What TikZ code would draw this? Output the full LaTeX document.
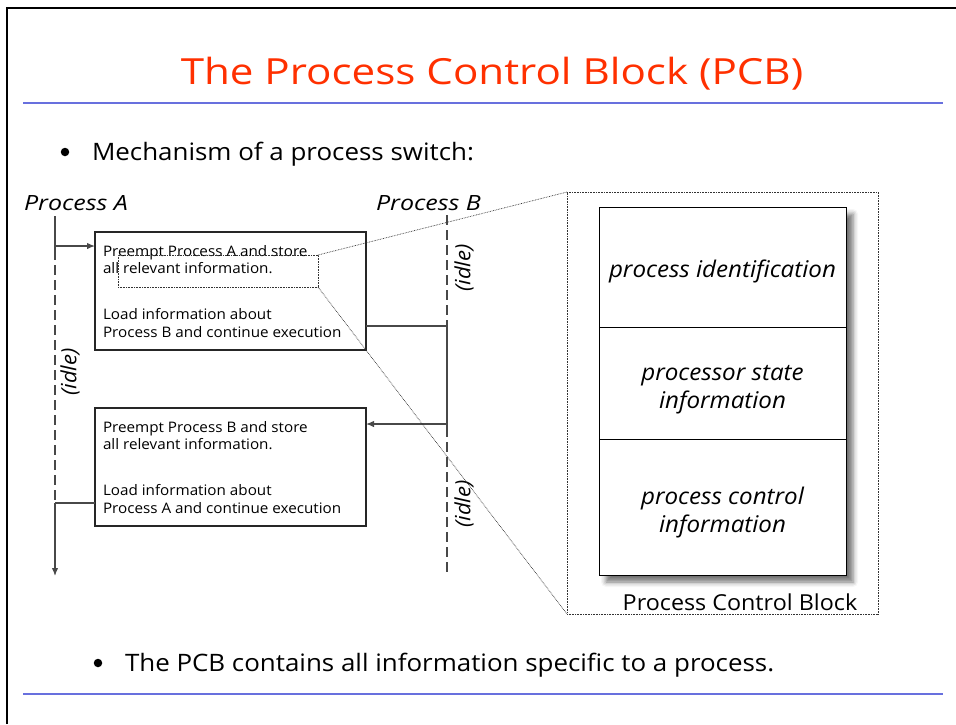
\documentclass[tikz,border=0pt]{standalone}
\usepackage{fontspec}
\setmainfont{Open Sans}
% Open Sans, widened per role
\newfontfamily\titlefont{Open Sans}[FakeStretch=1.17]
\newfontfamily\bulletfont{Open Sans}[FakeStretch=1.08]
\newfontfamily\boxfont{Open Sans}[FakeStretch=1.05]
\newfontfamily\namefont{Open Sans}[FakeStretch=1.06]
\newfontfamily\labelfont{Open Sans}[FakeStretch=1.19]
\newfontfamily\idlefont{Open Sans}[FakeStretch=1.05]
\newfontfamily\cellfont{Open Sans}[FakeStretch=1.05]
\usetikzlibrary{arrows.meta,shadows.blur,calc}
\definecolor{titlered}{RGB}{255,48,0}
\definecolor{rulebl}{RGB}{104,112,222}
\definecolor{linegray}{RGB}{72,72,72}

\begin{document}
\begin{tikzpicture}[x=1pt,y=-1pt,
  every node/.style={inner sep=0pt,outer sep=0pt},
  slidetitle/.style={font=\titlefont\fontsize{36}{43}\selectfont,text=titlered,anchor=base},
  bullettext/.style={font=\bulletfont\fontsize{24}{29}\selectfont,anchor=base west},
  bulletdot/.style={circle,fill=black,minimum size=8.5pt},
  proclabel/.style={font=\labelfont\fontsize{21}{25}\selectfont\itshape,anchor=base west},
  procbox/.style={draw=black!85,line width=1.1pt,fill=white,anchor=north west,
    minimum width=271pt,minimum height=118pt},
  boxtext/.style={anchor=north west,align=left,font=\boxfont\fontsize{14.5}{17.5}\selectfont},
  idlelabel/.style={font=\idlefont\fontsize{21}{25}\selectfont\itshape,rotate=90},
  timeline/.style={draw=linegray,line width=1.3pt},
  idleline/.style={timeline,dash pattern=on 10pt off 5pt},
  tip/.style={-{Latex[length=8pt,width=6.5pt]}},
  zoomline/.style={draw=black!80,line width=0.7pt,dash pattern=on 0.7pt off 0.9pt},
  pcbcell/.style={draw=black,line width=1pt,fill=white,anchor=north west,minimum width=247pt},
  celltext/.style={align=center,font=\cellfont\fontsize{23}{28}\selectfont\itshape}]

\useasboundingbox (0,0) rectangle (956,724);

% slide frame and rules
\draw[line width=2pt] (7,724) -- (7,7.5) -- (956,7.5);
\draw[rulebl,line width=2pt] (23,103.3) -- (943,103.3);
\draw[rulebl,line width=2pt] (23,694) -- (943,694);

% title and bullets
\node[slidetitle] (title) at (492,84) {The Process Control Block (PCB)};
\node[bulletdot] (dot1) at (65,152) {};
\node[bullettext] (bul1) at (92,160) {Mechanism of a process switch:};
\node[bulletdot] (dot2) at (98,663) {};
\node[bullettext] (bul2) at (125,671) {The PCB contains all information specific to a process.};

% process labels
\node[proclabel] (labA) at (24,210) {Process A};
\node[proclabel] (labB) at (376,210) {Process B};

% timeline points
\coordinate (A0) at (55,216);
\coordinate (A1) at (55,246);
\coordinate (A2) at (55,503);
\coordinate (A3) at (55,576);
\coordinate (B0) at (447,215);
\coordinate (B1) at (447,326);
\coordinate (B2) at (447,424);
\coordinate (B3) at (447,576);

% switch boxes
\node[procbox] (sw1) at (95,232) {};
\node[boxtext] (sw1txt) at ($(sw1.north west)+(8,13)$) {Preempt Process A and store\\all relevant information.\\[28.5pt]Load information about\\Process B and continue execution};
\node[procbox] (sw2) at (95,408) {};
\node[boxtext] (sw2txt) at ($(sw2.north west)+(8,13)$) {Preempt Process B and store\\all relevant information.\\[28.5pt]Load information about\\Process A and continue execution};

% process A timeline
\draw[timeline] (A0) -- ($(A1)+(0,4)$);
\draw[idleline] ($(A1)+(0,4)$) -- (A2);
\draw[timeline,tip] (A2) -- (A3);
\draw[timeline,tip] (A1) -- (A1 -| sw1.west);
\draw[timeline] (A2) -- (A2 -| sw2.west);

% process B timeline
\draw[idleline] (B0) -- (B1);
\draw[timeline] (B1) -- ($(B2)+(0,3)$);
\draw[idleline] ($(B2)+(0,3)$) -- (B3);
\draw[timeline] (B1 -| sw1.east) -- (B1);
\draw[timeline,tip] (B2) -- (B2 -| sw2.east);

% idle labels
\node[idlelabel] (idleA) at (70,372) {(idle)};
\node[idlelabel] (idleB1) at (464,268) {(idle)};
\node[idlelabel] (idleB2) at (464,504) {(idle)};

% process control block
\node[draw=none,fill=white,anchor=north west,minimum width=247pt,minimum height=368pt,
  blur shadow={shadow xshift=7pt,shadow yshift=-7pt,shadow blur radius=5pt,shadow opacity=55}] (pcb) at (599,207) {};
\node[pcbcell,minimum height=120pt] (cellid) at (599,207) {};
\node[pcbcell,minimum height=112pt] (cellstate) at (599,327) {};
\node[pcbcell,minimum height=136pt] (cellctl) at (599,439) {};
\node[celltext] (tid) at ($(cellid.center)+(0,4)$) {process identification};
\node[celltext] (tstate) at ($(cellstate.center)+(0,7)$) {processor state\\information};
\node[celltext] (tctl) at ($(cellctl.center)+(0,6)$) {process control\\information};

\node[zoomline,anchor=north west,minimum width=311pt,minimum height=422pt] (pcbframe) at (567,192) {};
\node[anchor=base,font=\namefont\fontsize{22}{26}\selectfont] (pcbname) at (740,610) {Process Control Block};

% magnified selection
\node[zoomline,anchor=north west,minimum width=200pt,minimum height=32pt] (zoomsel) at (118,255) {};
\draw[zoomline] (zoomsel.north east) -- (pcbframe.north west);
\draw[zoomline] (zoomsel.south east) -- (pcbframe.south west);

\end{tikzpicture}
\end{document}
